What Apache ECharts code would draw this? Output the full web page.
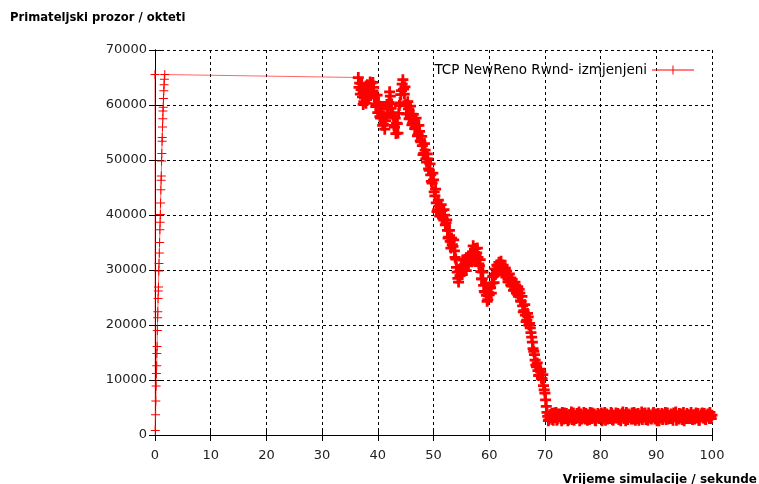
<!DOCTYPE html>
<html>
<head>
<meta charset="utf-8">
<script src="https://cdn.jsdelivr.net/npm/echarts@6/dist/echarts.min.js"></script>
<style>
  html, body { margin: 0; padding: 0; background: #fff; }
  #chart { width: 759px; height: 484px; }
</style>
</head>
<body>
<div id="chart"></div>
<script>
// Receiver window (rwnd) of TCP NewReno, octets over simulation time
const seriesName = 'TCP NewReno Rwnd- izmjenjeni';
const yTitle = 'Primateljski prozor / okteti';
const xTitle = 'Vrijeme simulacije / sekunde';

// Slow start at the beginning of the run
const rampTimes = [0, 0.05, 0.1, 0.15, 0.2, 0.25, 0.3, 0.33, 0.38, 0.42, 0.47, 0.5, 0.55, 0.6, 0.62,
  0.68, 0.72, 0.78, 0.82, 0.88, 0.92, 0.96, 1.0, 1.05, 1.1, 1.13, 1.18, 1.22, 1.27, 1.3, 1.35,
  1.4, 1.43, 1.48, 1.52, 1.58, 1.63, 1.68, 1.75];
const rampValues = [65535, 800, 3700, 6200, 8900, 11200, 12600, 14800, 16100, 19000, 21300, 22400,
  24800, 26200, 26900, 29800, 31200, 33100, 35000, 37300, 38700, 40100, 42200, 44600, 46300,
  47100, 49800, 51200, 53400, 54100, 56000, 57500, 58900, 59600, 61200, 62600, 63700, 64700, 65535];

// Samples from 36.5 s to 100 s, every 0.25 s
const sampleStart = 36.5;
const sampleStep = 0.25;
const sampleValues = [
  65000, 64000, 62800, 61500, 60600, 62200, 61000, 63400, 62300, 64000,
  62500, 63200, 61800, 60200, 58600, 59800, 57600, 58400, 56500, 55600,
  57800, 59200, 60500, 61600, 60200, 58000, 56000, 54800, 56600, 58500,
  60400, 62600, 64600, 62000, 60100, 58400, 59300, 57600, 58200, 56700,
  57400, 55900, 56300, 54600, 55200, 53300, 52600, 51200, 51800, 49600,
  50200, 48100, 47300, 45800, 46400, 43500, 42200, 41000, 41600, 40200,
  40800, 39300, 40000, 38600, 37200, 36000, 35200, 35800, 34300, 33500,
  32000, 29600, 27800, 29000, 30600, 31800, 30400, 31200, 32200, 30900,
  31600, 32800, 33300, 32400, 33900, 33100, 32300, 30800, 29700, 28400,
  27200, 26000, 25400, 24600, 25500, 26800, 27600, 28900, 30200, 29400,
  30800, 31400, 30600, 29800, 30900, 29600, 28700, 29200, 27800, 28500,
  27100, 27700, 26400, 27200, 26100, 25200, 25800, 24300, 23500, 22600,
  21800, 20900, 21500, 20300, 18600, 16900, 15200, 13600, 12400, 11700,
  10900, 11500, 10200, 9000, 7600, 5200, 3400, 2800,
  3100, 3900, 2700, 3500, 4100, 2900, 3300, 3800, 2600, 3600,
  4000, 3000, 3400, 2800, 3700, 4200, 3100, 2700, 3500, 3900,
  3200, 2600, 3800, 3400, 4100, 2900, 3300, 3700, 2800, 3600,
  4000, 3100, 2700, 3500, 3900, 3000, 3400, 2600, 3800, 4100,
  3200, 2900, 3600, 3300, 3900, 2700, 3500, 4000, 3100, 2800,
  3700, 3400, 4200, 3000, 2600, 3600, 3800, 3200, 2900, 3500,
  4100, 2700, 3300, 3900, 3100, 3600, 2800, 3400, 4000, 3000,
  2700, 3700, 3500, 3200, 4100, 2900, 3800, 3300, 2600, 3600,
  3900, 3100, 3400, 2800, 4000, 3500, 3000, 3700, 2700, 3300,
  4200, 3100, 2900, 3600, 3800, 3200, 2600, 3500, 3900, 3000,
  3400, 4100, 2800, 3700, 3300, 3100, 3900, 2700, 3600, 4000,
  3200, 2900, 3500, 3800, 3000, 3400, 3600
];

// In-between samples, 0.125 s after each of the ones above (36.625 s .. 99.875 s)
const midValues = [
  63200, 62000, 63900, 60100, 62800, 60300, 63700, 61500, 64200, 62100,
  64100, 61300, 59700, 61800, 60500, 57900, 59600, 56300, 57900, 57100,
  60100, 58300, 62400, 59400, 58600, 56300, 57600, 56700, 54900, 59900,
  61900, 63800, 62900, 63300, 58400, 60600, 57500, 59800, 56400, 58300,
  55700, 57600, 54400, 56300, 53500, 54300, 51000, 53000, 50200, 51100,
  48400, 49300, 46100, 47600, 44200, 44700, 40600, 42700, 39800, 41900,
  39500, 41000, 38200, 39100, 35800, 37200, 34000, 34600, 35500, 32300,
  30500, 28500, 29700, 30300, 29200, 30900, 31900, 29900, 31200, 32500,
  33000, 31500, 34400, 33200, 32300, 34000, 31100, 31900, 28400, 29600,
  26100, 27400, 24300, 25900, 26700, 25800, 28800, 27700, 29200, 30900,
  29700, 30100, 31600, 30700, 29200, 30400, 29800, 27900, 29300, 27300,
  28300, 26300, 27800, 25800, 27000, 26500, 24400, 25200, 22400, 23700,
  20600, 22100, 20000, 19500, 17800, 15700, 14600, 12700, 13100, 10800,
  12000, 10300, 11000, 8200, 6400, 4100, 2600, 3700,
  3600, 2800, 4000, 3200, 2700, 3800, 3500, 3000, 4100, 2900,
  3300, 3900, 2600, 3700, 3100, 2800, 4000, 3400, 3000, 3600,
  4200, 3500, 2900, 3100, 3600, 3900, 2700, 3200, 4100, 3000,
  3400, 3800, 2600, 3300, 3100, 3700, 4000, 2900, 3500, 2700,
  3800, 3400, 3000, 4100, 2800, 3600, 3100, 3300, 3900, 3500,
  2600, 3900, 3100, 3700, 4100, 2800, 3300, 3600, 4000, 2900,
  3400, 3800, 3000, 2700, 3500, 4200, 3200, 3900, 2800, 3600,
  4000, 3100, 2900, 3800, 3300, 3600, 2600, 3900, 3500, 3100,
  2800, 3700, 4100, 3200, 2900, 3400, 3800, 3000, 4000, 3600,
  2700, 3500, 3900, 3100, 2800, 4100, 3400, 3000, 3300, 3700,
  3000, 3600, 3200, 2900, 4000, 3500, 2700, 3300, 3800, 3100,
  3900, 2800, 3600, 3300, 4100, 3000
];

const xTicks = { min: 0, max: 100, interval: 10 };
const yTicks = { min: 0, max: 70000, interval: 10000 };

const FONT = 'DejaVu Sans';
// gnuplot-style "+" point marks: thin ones for the sparse ramp, heavier in the dense part
const plusThin = 'path://M4,0H5V4H9V5H5V9H4V5H0V4H4Z';
const plusBold = 'path://M3.75,0H6.25V3.75H10V6.25H6.25V10H3.75V6.25H0V3.75H3.75Z';
// legend sample: a line with a "+" in its middle
const legendIcon = 'path://M0,4H20.5V0H21.5V4H42V5H21.5V9H20.5V5H0Z';

// time-ordered points: ramp, then samples interleaved with in-between samples
const linePoints = rampTimes.map((t, i) => [t, rampValues[i]]);
sampleValues.forEach((v, i) => {
  const t = sampleStart + i * sampleStep;
  linePoints.push([t, v]);
  if (i < midValues.length) linePoints.push([t + sampleStep / 2, midValues[i]]);
});

const rampCount = rampTimes.length;
const markPoints = linePoints.map((p, i) => i < rampCount
  ? { value: p, symbol: plusThin, symbolSize: 9 }
  : { value: p });

const mirrorAxis = {
  axisLine: { show: true, lineStyle: { color: '#000', width: 1 } },
  axisTick: { show: true, inside: true, length: 6, lineStyle: { color: '#000' } },
  axisLabel: { show: false },
  splitLine: { show: false }
};

const chart = echarts.init(document.getElementById('chart'), null, { renderer: 'canvas' });
chart.setOption({
  animation: false,
  backgroundColor: '#fff',
  grid: { left: 155, right: 47, top: 50, bottom: 49 },
  title: [
    { text: yTitle, left: 10, top: 12, padding: 0,
      textStyle: { fontFamily: FONT, fontSize: 11.6, fontWeight: 'bold', color: '#000' } },
    { text: xTitle, right: 2, top: 474, padding: 0,
      textStyle: { fontFamily: FONT, fontSize: 12, fontWeight: 'bold', color: '#000' } }
  ],
  legend: {
    right: 60, top: 58,
    align: 'right',
    itemWidth: 42, itemHeight: 9,
    itemGap: 7,
    textStyle: { fontFamily: FONT, fontSize: 13.5, color: '#000' },
    data: [{ name: seriesName, icon: legendIcon, itemStyle: { color: '#ff0000' } }]
  },
  xAxis: [
    {
      type: 'value', position: 'bottom', ...xTicks,
      axisLine: { show: true, onZero: false, lineStyle: { color: '#000', width: 1 } },
      axisTick: { show: true, inside: true, length: 6, lineStyle: { color: '#000' } },
      axisLabel: { show: true, margin: 14, fontFamily: FONT, fontSize: 13, color: '#222' },
      splitLine: { show: true, lineStyle: { color: '#000', width: 1, type: [3, 3] } }
    },
    Object.assign({ type: 'value', position: 'top', ...xTicks }, mirrorAxis)
  ],
  yAxis: [
    {
      type: 'value', position: 'left', ...yTicks,
      axisLine: { show: true, onZero: false, lineStyle: { color: '#000', width: 1 } },
      axisTick: { show: true, inside: true, length: 6, lineStyle: { color: '#000' } },
      axisLabel: { show: true, margin: 8, fontFamily: FONT, fontSize: 13, color: '#222',
        formatter: v => String(v) },
      splitLine: { show: true, lineStyle: { color: '#000', width: 1, type: [3, 3] } }
    },
    Object.assign({ type: 'value', position: 'right', ...yTicks }, mirrorAxis)
  ],
  series: [
    {
      name: seriesName,
      type: 'line',
      data: linePoints,
      symbol: 'none',
      clip: false,
      lineStyle: { color: 'rgba(255,0,0,0.6)', width: 1 },
      itemStyle: { color: '#ff0000' },
      z: 2
    },
    {
      name: 'rwnd points',
      type: 'scatter',
      data: markPoints,
      clip: false,
      symbol: plusBold,
      symbolSize: 11,
      itemStyle: { color: '#ff0000', opacity: 1 },
      z: 3
    }
  ]
});
</script>
</body>
</html>
